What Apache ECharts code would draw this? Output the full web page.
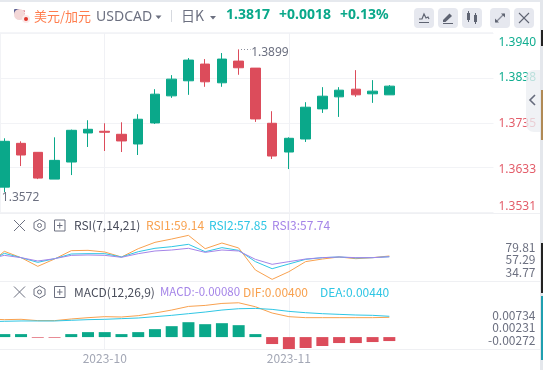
<!DOCTYPE html>
<html><head><meta charset="utf-8">
<style>html,body{margin:0;padding:0;background:#fff}#c{width:543px;height:370px}</style>
<script src="https://cdn.jsdelivr.net/npm/echarts@6/dist/echarts.min.js"></script>
</head><body><div id="c"></div>
<script>
// first slot is off-canvas (only its line segment shows), trailing slots are empty
const categories = ['','','','','','','','2023-10','','','','','','','','','','','2023-11','','','','','','','','','','','',''];
const opens  = [1.3655,1.35888,1.36886,1.36681,1.36071,1.36460,1.37122,1.37161,1.37092,1.36871,1.37351,1.37968,1.38311,1.38692,1.38265,1.38760,1.38600,1.37343,1.36688,1.36985,1.37671,1.37945,1.38120,1.38014,1.37991];
const closes = [1.3690,1.36932,1.36620,1.36094,1.36498,1.37183,1.37206,1.37138,1.36940,1.37435,1.38006,1.38349,1.38783,1.38288,1.38806,1.38608,1.37442,1.36597,1.37001,1.37709,1.37960,1.38097,1.37991,1.38075,1.38189];
const lows   = [1.3640,1.35774,1.36368,1.36071,1.36071,1.36163,1.36803,1.36711,1.36688,1.36620,1.37328,1.37922,1.37991,1.38174,1.38174,1.38448,1.37374,1.36528,1.36300,1.36917,1.37579,1.37488,1.37945,1.37808,1.37991];
const highs  = [1.3700,1.37001,1.36932,1.36681,1.37023,1.37199,1.37412,1.37343,1.37366,1.37549,1.38120,1.38440,1.38829,1.38806,1.38943,1.39027,1.38600,1.37618,1.37023,1.37823,1.38166,1.38166,1.38554,1.38326,1.38212];
const rsi1 = [41.4,67.7,56.1,40.2,53.6,68.9,69.5,66.4,57.3,72.5,84.1,90.2,96.9,72.5,82.9,73.8,33.5,16.4,30.4,48.8,53.6,57.3,54.2,56.1,59.14];
const rsi2 = [47.5,64,56.1,47.5,54.2,62.8,63.4,63.4,57.3,67,73.2,76.2,80.5,67,74.4,69.5,48.8,35.9,44.5,53,56.1,57.3,55.5,56.1,57.85];
const rsi3 = [53,60.3,56.1,50,54.2,60.3,61,60.3,56.7,63.4,68.3,70.1,73.2,65.8,70.1,68.3,53,43.9,48.8,53.6,56.1,57.3,56.1,56.1,57.74];
const dif  = [.00334,.00308,.00321,.00269,.00269,.00334,.00386,.00425,.00412,.00464,.00568,.00685,.00828,.00867,.00945,.00971,.00815,.00568,.00425,.00386,.00386,.00386,.00386,.00386,.004];
const dea  = [.0023,.00243,.00256,.00256,.00256,.00282,.00308,.00321,.00347,.00373,.00425,.00477,.00542,.00607,.00685,.00737,.0075,.00711,.00633,.00581,.00542,.00516,.0049,.00477,.0044];
const hist = [.0006,.0006,.0006,-.00013,-.00013,.0006,.001,.001,.0006,.001,.0016,.0022,.003,.0026,.0028,.0024,.0006,-.0014,-.0024,-.0022,-.0018,-.0012,-.0012,-.001,-.0008];
const priceTicks = [1.3531,1.3633,1.3735,1.3838,1.3940];
const priceEdgeTicks = [1.3531,1.3940];
const priceInnerTicks = [1.3633,1.3735,1.3838];
const rsiTicks = [34.77,57.29,79.81];
const macdTicks = [-0.00272,0.00231,0.00734];
const highLabel = '1.3899', lowLabel = '1.3572';

const GREEN='#0aa88a', RED='#dc4c5b', ORANGE='#f8a14f', CYAN='#2fc6e4', PURPLE='#a585e8', GRAY='#6c7080', LINE='#f2f3f6';
const FONT='"Noto Sans",sans-serif', LFONT='"Noto Sans CJK SC","Noto Sans",sans-serif';
const slot=16.74, L=-20.81, W=slot*categories.length;
const panes=[{top:33,height:179.5},{top:213.5,height:67.5},{top:281.5,height:67.5}];

const grid=[...panes.map(p=>({left:L,width:W,top:p.top,height:p.height,outerBoundsMode:'none'})),
            ...panes.map(p=>({left:0,width:493.5,top:p.top,height:p.height,outerBoundsMode:'none'}))];
const xAxis=[0,1,2].map(i=>({type:'category',gridIndex:i,data:categories,boundaryGap:true,
  axisLine:{show:false},axisTick:{show:false},splitLine:{show:false},
  axisLabel:i===2?{show:true,interval:0,color:'#a3a7b5',fontSize:12,fontFamily:LFONT,margin:3,hideOverlap:false}:{show:false}}));
[3,4,5].forEach(i=>xAxis.push({type:'value',gridIndex:i,min:0,max:1,show:false}));
const hide={show:false};
const priceColor=v=>v>=1.38?'#10ad90':'#e35d6a';
const yAxis=[
 {gridIndex:0,type:'value',min:1.3531,max:1.3940,show:false},      //0 candles
 {gridIndex:1,type:'value',min:13.37,max:136.9,show:false},        //1 rsi lines
 {gridIndex:2,type:'value',min:-.008456,max:.018067,show:false},   //2 macd lines
 {gridIndex:2,type:'value',min:-.0024,max:.0112,show:false},       //3 macd bars
 {gridIndex:3,type:'value',position:'right',min:1.3531,max:1.3940,
  axisLine:{show:true,lineStyle:{color:LINE}},axisTick:{show:false,customValues:priceTicks},
  splitLine:{show:true,lineStyle:{color:LINE,width:1}},
  axisLabel:{customValues:priceEdgeTicks,margin:5,fontSize:12,fontFamily:FONT,padding:[4,0,0,0],
    showMinLabel:true,showMaxLabel:true,verticalAlignMaxLabel:'top',verticalAlignMinLabel:'bottom',
    formatter:v=>v.toFixed(4),color:priceColor}},
 {gridIndex:3,type:'value',position:'right',min:1.35367,max:1.39388,axisLine:hide,splitLine:hide,
  axisTick:{show:false,customValues:priceInnerTicks},
  axisLabel:{customValues:priceInnerTicks,margin:5,fontSize:12,fontFamily:FONT,
    formatter:v=>v.toFixed(4),color:priceColor}},
 {gridIndex:4,type:'value',position:'right',min:18.36,max:141.45,axisLine:hide,splitLine:hide,
  axisTick:{show:false,customValues:rsiTicks},
  axisLabel:{customValues:rsiTicks,align:'right',margin:42,fontSize:12,fontFamily:LFONT,color:GRAY,formatter:v=>v.toFixed(2)}},
 {gridIndex:5,type:'value',position:'right',min:-.005967,max:.020452,axisLine:hide,splitLine:hide,
  axisTick:{show:false,customValues:macdTicks},
  axisLabel:{customValues:macdTicks,align:'right',margin:42,fontSize:12,fontFamily:LFONT,color:GRAY,formatter:v=>v.toFixed(5)}}
];
const vLines={silent:true,symbol:'none',z:1,label:{show:false},animation:false,
  lineStyle:{color:'#f0f1f5',width:1,type:'solid'},
  data:categories.filter(c=>c).map(c=>({xAxis:c}))};
const line=(name,data,color,xi,yi,extra)=>Object.assign({name,type:'line',data,xAxisIndex:xi,yAxisIndex:yi,showSymbol:false,symbol:'none',
  lineStyle:{color,width:1},itemStyle:{color},animation:false,silent:true},extra||{});
const lblStyle={show:true,color:GRAY,fontSize:12,fontFamily:FONT};
const series=[
 {type:'candlestick',xAxisIndex:0,yAxisIndex:0,barWidth:10,animation:false,silent:true,
  data:opens.map((o,i)=>[o,closes[i],lows[i],highs[i]]),
  itemStyle:{color:GREEN,color0:RED,borderColor:GREEN,borderColor0:RED,borderWidth:1},
  markLine:vLines,
  markPoint:{symbol:'circle',symbolSize:1,silent:true,animation:false,itemStyle:{color:'rgba(0,0,0,0)'},data:[
    {coord:[15,highs[15]],value:highLabel,label:Object.assign({},lblStyle,{position:'right',distance:0,offset:[12,3],formatter:highLabel})},
    {coord:[1,lows[1]],value:lowLabel,label:Object.assign({},lblStyle,{position:'right',distance:0,offset:[-3,5],formatter:lowLabel})}
  ]}},
 line('RSI1',rsi1,ORANGE,1,1,{markLine:vLines}),
 line('RSI2',rsi2,CYAN,1,1),
 line('RSI3',rsi3,PURPLE,1,1),
 {type:'bar',xAxisIndex:2,yAxisIndex:3,barWidth:12,animation:false,silent:true,markLine:vLines,
  data:hist.map(v=>({value:v,itemStyle:{color:v>=0?GREEN:RED}}))},
 line('DIF',dif,ORANGE,2,2),
 line('DEA',dea,CYAN,2,2)
];

// page chrome
const T=(text,x,y,fill,font,align)=>({type:'text',z:20,silent:true,style:{text,x,y,fill,font,align:align||'left',verticalAlign:'middle'}});
const R=(x,y,w,h,fill,r,op)=>({type:'rect',z:19,silent:true,shape:{x,y,width:w,height:h,r:r||0},style:{fill,opacity:op==null?1:op}});
const PL=(pts,stroke,w)=>({type:'polyline',z:20,silent:true,shape:{points:pts},style:{stroke,lineWidth:w||1,fill:'none'}});
const PG=(pts,fill,stroke)=>({type:'polygon',z:20,silent:true,shape:{points:pts},style:{fill:fill||'none',stroke:stroke||'none',lineWidth:1}});
const C=(cx,cy,r,fill,stroke)=>({type:'circle',z:20,silent:true,shape:{cx,cy,r},style:{fill:fill||'none',stroke:stroke||'none',lineWidth:1}});
const ICON='#5f6472';
const paneIcons=y=>[
  PL([[14,y-5.5],[25,y+5.5]],GRAY),PL([[25,y-5.5],[14,y+5.5]],GRAY),
  PG([[39.5,y-6],[45,y-3],[45,y+3],[39.5,y+6],[34,y+3],[34,y-3]],null,GRAY),C(39.5,y,2,null,GRAY),
  {type:'rect',z:20,silent:true,shape:{x:54.5,y:y-5.5,width:10.5,height:11},style:{fill:'none',stroke:GRAY,lineWidth:1}},
  PL([[57,y],[62.5,y]],GRAY),PL([[59.75,y-3],[59.75,y+3]],GRAY)];
const graphic=[
  R(0,0,543,2,'#e6e9ee'),R(540,0,3,370,'#e4e7ec'),
  R(541,30,2,16,'#222'),R(541,90,2,50,'#b08a55'),R(541,243,2,50,'#222'),R(541,296,2,64,'#1f9fb0'),
  R(0,32,493,1,'#f4f5f8'),
  R(0,213,540,1,'#eff0f3'),R(0,281,540,1,'#eff0f3'),R(0,349,540,1,'#eff0f3'),
  // flags
  C(19.5,14.5,5.5,'#f3d7d7'),R(14,9,6,5,'#5a5f92',1),R(20,10.5,5,1.2,'#d9596a'),R(20,13,5,1.2,'#d9596a'),R(15,16,9,1.2,'#d9596a'),
  C(26,19,4,'#fbe9e9'),C(26,19,2,'#e0352b'),
  T('美元/加元',34,16,'#ff7d4d','13px '+LFONT),
  T('USDCAD',96,17,GRAY,'14px '+FONT),
  PG([[155.5,15.5],[161.5,15.5],[158.5,19]],GRAY),
  R(171,10,1,12,'#d6d9df'),
  T('日K',181,15.5,GRAY,'14px '+LFONT),
  PG([[210,16],[216,16],[213,19.5]],GRAY),
  T('1.3817',226,15,GREEN,'bold 14px '+FONT),
  T('+0.0018',279,15,GREEN,'bold 14px '+FONT),
  T('+0.13%',340,15,GREEN,'bold 14px '+FONT),
  // toolbar
  R(414,8,20,20,'#e6e8ef',4),R(438,8,20,20,'#e6e8ef',4),R(462,8,20,20,'#e6e8ef',4),R(490,8,20,20,'#e6e8ef',4),R(514,8,20,20,'#e6e8ef',4),
  PL([[419,19],[422,19],[424,14],[426,18],[428,17],[429,19]],ICON,1.2),R(419,22,10,1,ICON),
  PG([[443,20],[449.5,13.5],[452,16],[445.5,22],[443,22]],ICON),R(443,23,10,1,ICON),
  R(467,13,3,7,ICON),R(468,11,1,11,ICON),R(474,15,3,7,ICON),R(475,13,1,11,ICON),
  PL([[496,22],[504,14]],'#8a8e9b',1.2),PG([[501,13.5],[505,13.5],[505,17.5]],ICON),PG([[495,18.5],[495,22.5],[499,22.5]],ICON),
  PL([[519,13],[529,23]],ICON,1.1),PL([[529,13],[519,23]],ICON,1.1),
  // high leader
  {type:'line',z:20,silent:true,shape:{x1:241,y1:49.5,x2:250.5,y2:49.5},style:{stroke:'#8a8e9b',lineWidth:1,lineDash:[1,2]}},
  // collapse tab
  {type:'rect',z:30,silent:true,shape:{x:526,y:70,width:14,height:62,r:[8,0,0,8]},style:{fill:'#eceef2',opacity:.78}},
  {type:'polyline',z:31,silent:true,shape:{points:[[535,95],[530,100],[535,105]]},style:{stroke:'#666b7c',lineWidth:1.6,fill:'none'}},
  // pane headers
  ...paneIcons(225.5),...paneIcons(292),
  T('RSI(7,14,21)',74,225.5,'#4a4e5c','12px '+LFONT),
  T('RSI1:59.14',146,225.5,ORANGE,'12px '+LFONT),
  T('RSI2:57.85',209,225.5,CYAN,'12px '+LFONT),
  T('RSI3:57.74',272,225.5,PURPLE,'12px '+LFONT),
  T('MACD(12,26,9)',74,292,'#4a4e5c','12px '+LFONT),
  T('MACD:-0.00080',160,292,PURPLE,'11.5px '+LFONT),
  T('DIF:0.00400',243,292,ORANGE,'12px '+LFONT),
  T('DEA:0.00440',320,292,CYAN,'12px '+LFONT)
];
const chart=echarts.init(document.getElementById('c'),null,{renderer:'canvas'});
chart.setOption({animation:false,backgroundColor:'#fff',grid,xAxis,yAxis,series,graphic:{elements:graphic}});
</script></body></html>
